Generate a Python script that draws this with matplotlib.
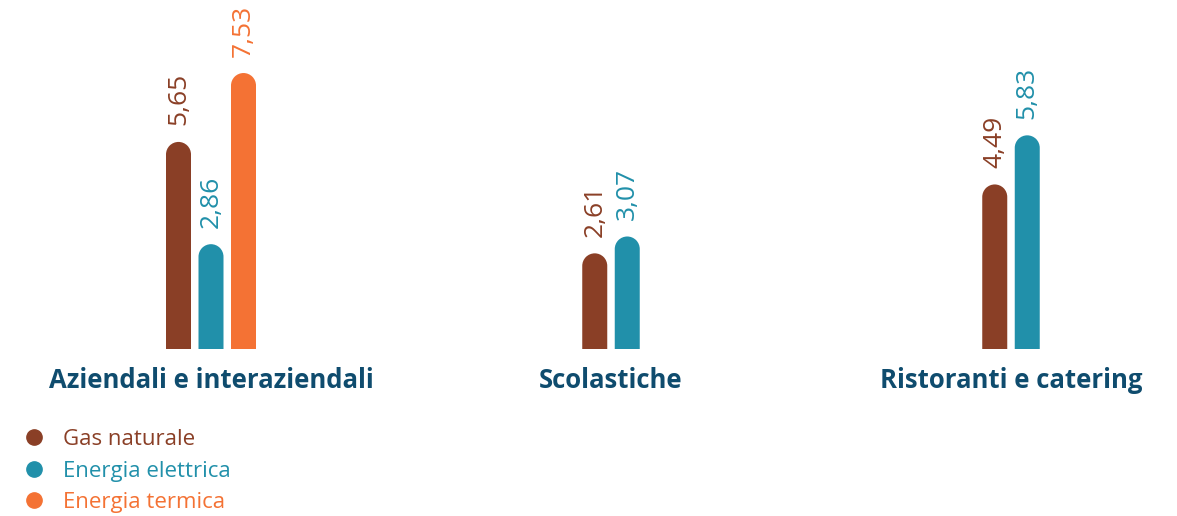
import numpy as np
import matplotlib.pyplot as plt
from matplotlib.lines import Line2D
from matplotlib.patches import PathPatch
from matplotlib.path import Path

categorie = ["Aziendali e interaziendali", "Scolastiche", "Ristoranti e catering"]
serie = ["Gas naturale", "Energia elettrica", "Energia termica"]
valori = {
    "Gas naturale": [5.65, 2.61, 4.49],
    "Energia elettrica": [2.86, 3.07, 5.83],
    "Energia termica": [7.53, None, None],
}
colori = ["#8a3f26", "#2190aa", "#f47234"]

W, H = 1177, 516
fig = plt.figure(figsize=(W / 100, H / 100), dpi=100)
base = 349  # pixel row of bar baseline
ax = fig.add_axes([0, (H - base) / H, 1, base / H])
ax.set_axis_off()

px_x = 400.0  # pixels per category step
ax.set_xlim(-211 / px_x, (W - 211) / px_x)
ymax = base / 36.65
ax.set_ylim(0, ymax)

bw = 25 / px_x
step = 32.5 / px_x
r_y = 12.5 * ymax / base  # cap radius in y units


def barra_tonda(x, v, c):
    # rectangle with a semicircular top
    arco = Path.arc(0, 180)
    av = arco.vertices.copy()
    av[:, 0] = x + av[:, 0] * bw / 2
    av[:, 1] = v - r_y + av[:, 1] * r_y
    verts = [(x - bw / 2, 0), (x + bw / 2, 0), (x + bw / 2, v - r_y)]
    codes = [Path.MOVETO, Path.LINETO, Path.LINETO]
    verts += list(av[1:])
    codes += list(arco.codes[1:])
    verts += [(x - bw / 2, 0), (x - bw / 2, 0)]
    codes += [Path.LINETO, Path.CLOSEPOLY]
    ax.add_patch(PathPatch(Path(verts, codes), fc=c, ec="none"))


for i, cat in enumerate(categorie):
    presenti = [s for s in serie if valori[s][i] is not None]
    n = len(presenti)
    for j, s in enumerate(presenti):
        v = valori[s][i]
        c = colori[serie.index(s)]
        x = i + (j - (n - 1) / 2) * step
        barra_tonda(x, v, c)
        ax.text(x, v + 0.45, f"{v:.2f}".replace(".", ","), rotation=90,
                ha="center", va="bottom", color=c, fontsize=19,
                family="Open Sans")
    fig.text((211 + i * px_x) / W, 1 - 381 / H, cat, ha="center", va="center",
             fontsize=18.5, fontweight="bold", color="#0f4c6e", family="Open Sans")

handles = [Line2D([], [], marker="o", ls="", color=c, markersize=11) for c in colori]
fig.legend(handles, serie, loc="upper left", bbox_to_anchor=(3 / W, 1 - 420 / H),
           frameon=False, labelcolor=colori, prop={"family": "Open Sans", "size": 16},
           handletextpad=0.3, labelspacing=0.48, borderaxespad=0)

fig.savefig("out.png", dpi=100)
